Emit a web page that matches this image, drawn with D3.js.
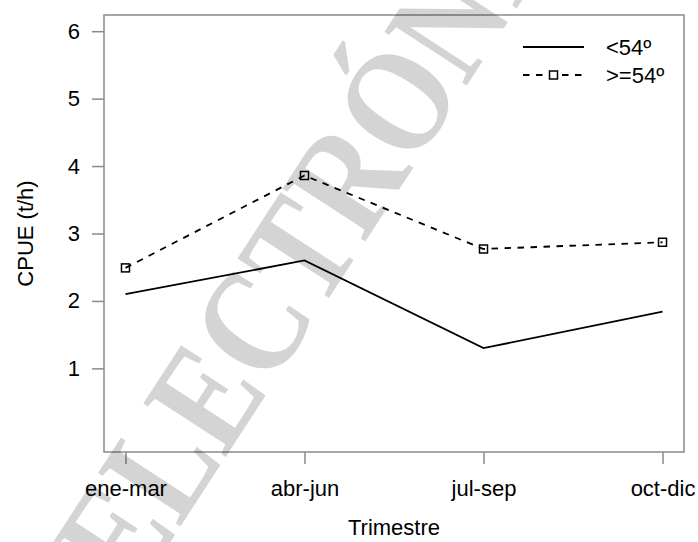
<!DOCTYPE html>
<html><head><meta charset="utf-8">
<script src="https://cdn.jsdelivr.net/npm/d3@7"></script>
<style>body{margin:0;background:#fff}svg{display:block}text{font-family:"Liberation Sans",Arial,sans-serif}</style>
</head><body>
<script>
const categories = ["ene-mar","abr-jun","jul-sep","oct-dic"];
const seriesLow = [2.10, 2.60, 1.30, 1.84];    // <54º
const seriesHigh = [2.49, 3.86, 2.77, 2.87];   // >=54º
const yTicks = [1,2,3,4,5,6];
const legendLabels = ["<54º", ">=54º"];
const xTitle = "Trimestre", yTitle = "CPUE (t/h)";
const watermark = "ELECTRÓNICO";

const W = 698, H = 542;
const L = 104, R = 684, T = 15, B = 452;
const svg = d3.select("body").append("svg").attr("width", W).attr("height", H);

const x = d3.scaleLinear().domain([0.88, 4.12]).range([L, R]);
const y = d3.scaleLinear().domain([-0.24, 6.24]).range([B, T]);
const axisCol = "#8a8a8a";

// box
svg.append("rect").attr("x", L).attr("y", T).attr("width", R - L).attr("height", B - T)
  .attr("fill", "none").attr("stroke", axisCol).attr("stroke-width", 1.5);

// y axis
const ya = svg.append("g").attr("transform", `translate(${L},0)`)
  .call(d3.axisLeft(y).tickValues(yTicks).tickSize(12).tickPadding(12).tickFormat(d3.format("d")));
ya.select(".domain").remove();
ya.selectAll("line").attr("stroke", axisCol).attr("stroke-width", 1.5);
ya.selectAll("text").attr("font-size", 22).attr("fill", "#000");

// x axis
const xa = svg.append("g").attr("transform", `translate(0,${B})`)
  .call(d3.axisBottom(x).tickValues([1,2,3,4]).tickSize(12).tickPadding(16).tickFormat((d,i) => categories[i]));
xa.select(".domain").remove();
xa.selectAll("line").attr("stroke", axisCol).attr("stroke-width", 1.5);
xa.selectAll("text").attr("font-size", 22).attr("fill", "#000");

// titles
svg.append("text").attr("x", (L + R) / 2).attr("y", 535).attr("text-anchor", "middle")
  .attr("font-size", 22).text(xTitle);
svg.append("text").attr("transform", `translate(33,${(T + B) / 2}) rotate(-90)`).attr("text-anchor", "middle")
  .attr("font-size", 22).text(yTitle);

// lines
const line = d3.line().x((d, i) => x(i + 1)).y(d => y(d));
svg.append("path").datum(seriesLow).attr("d", line).attr("fill", "none")
  .attr("stroke", "#000").attr("stroke-width", 1.8);
svg.append("path").datum(seriesHigh).attr("d", line).attr("fill", "none")
  .attr("stroke", "#000").attr("stroke-width", 1.8).attr("stroke-dasharray", "6.5,6.5");
const ms = 8;
svg.selectAll(".mk").data(seriesHigh).enter().append("rect")
  .attr("x", (d, i) => x(i + 1) - ms / 2).attr("y", d => y(d) - ms / 2)
  .attr("width", ms).attr("height", ms).attr("fill", "none").attr("stroke", "#000").attr("stroke-width", 1.5);

// legend
const lg = svg.append("g");
const ly = [47, 75];
lg.append("line").attr("x1", 523).attr("x2", 584).attr("y1", ly[0]).attr("y2", ly[0])
  .attr("stroke", "#000").attr("stroke-width", 1.8);
lg.append("line").attr("x1", 523).attr("x2", 584).attr("y1", ly[1]).attr("y2", ly[1])
  .attr("stroke", "#000").attr("stroke-width", 1.8).attr("stroke-dasharray", "6.5,6.5");
lg.append("rect").attr("x", 553.5 - ms / 2).attr("y", ly[1] - ms / 2).attr("width", ms).attr("height", ms)
  .attr("fill", "#fff").attr("stroke", "#000").attr("stroke-width", 1.5);
legendLabels.forEach((t, i) => {
  lg.append("text").attr("x", 606).attr("y", ly[i]).attr("dy", "0.35em").attr("font-size", 22).text(t);
});

// watermark
svg.append("text").attr("transform", "translate(134,598) rotate(-57) scale(0.83,1)")
  .style("font-family", "'Liberation Serif', 'Times New Roman', serif").style("font-weight", "bold")
  .attr("font-size", 150).attr("fill", "#000").attr("fill-opacity", 0.17).text(watermark);
</script>
</body></html>
